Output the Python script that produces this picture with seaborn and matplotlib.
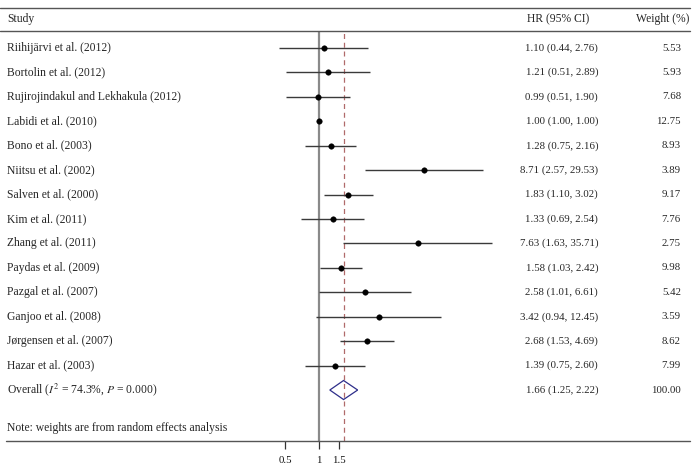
import matplotlib
matplotlib.use("Agg")
import matplotlib.pyplot as plt
import matplotlib.transforms as mtransforms
from matplotlib.lines import Line2D
import seaborn as sns
import pandas as pd

studies = ["Riihijärvi et al. (2012)", "Bortolin et al. (2012)",
           "Rujirojindakul and Lekhakula (2012)", "Labidi et al. (2010)",
           "Bono et al. (2003)", "Niitsu et al. (2002)", "Salven et al. (2000)",
           "Kim et al. (2011)", "Zhang et al. (2011)", "Paydas et al. (2009)",
           "Pazgal et al. (2007)", "Ganjoo et al. (2008)",
           "Jørgensen et al. (2007)", "Hazar et al. (2003)"]
hr = [1.10, 1.21, 0.99, 1.00, 1.28, 8.71, 1.83, 1.33, 7.63, 1.58, 2.58, 3.42, 2.68, 1.39]
ci_low = [0.44, 0.51, 0.51, 1.00, 0.75, 2.57, 1.10, 0.69, 1.63, 1.03, 1.01, 0.94, 1.53, 0.75]
ci_high = [2.76, 2.89, 1.90, 1.00, 2.16, 29.53, 3.02, 2.54, 35.71, 2.42, 6.61, 12.45, 4.69, 2.60]
weights = [5.53, 5.93, 7.68, 12.75, 8.93, 3.89, 9.17, 7.76, 2.75, 9.98, 5.42, 3.59, 8.62, 7.99]
overall_label = r"Overall ($I^2$ = 74.3%, $P$ = 0.000)"
overall_hr = 1.66
overall_low = 1.25
overall_high = 2.22
overall_weight = 100.00
xticks = [0.5, 1, 1.5]
xtick_labels = ["0.5", "1", "1.5"]
note = "Note: weights are from random effects analysis"

sns.set_theme(style="white")
plt.rcParams["font.family"] = ["Liberation Serif", "DejaVu Serif"]
plt.rcParams["mathtext.fontset"] = "stix"

W, H = 698, 467
fig = plt.figure(figsize=(W / 100, H / 100), dpi=100)
fig.patch.set_facecolor("white")

# axes geometry in pixels
ax_left, ax_right, ax_top, ax_bot = 230, 500, 31, 441
ax = fig.add_axes([ax_left / W, 1 - ax_bot / H, (ax_right - ax_left) / W, (ax_bot - ax_top) / H])
ax.set_facecolor("none")
ax.set_xscale("log")
ax.set_xlim(0.1596, 41.8)
row0, step = 48, 24.43
ax.set_ylim((ax_bot - row0) / step, (ax_top - row0) / step)
for s in ax.spines.values():
    s.set_visible(False)

n = len(studies)
df = pd.DataFrame({"study": studies, "hr": hr, "lo": ci_low, "hi": ci_high,
                   "w": weights, "row": list(range(n))})

ax.axvline(1, color="#8a8a8a", lw=1.6, zorder=1)
ax.axvline(overall_hr, color="#b06a6a", lw=0.9, ls=(0, (4, 3)), zorder=1)

ax.hlines(df["row"], df["lo"], df["hi"], color="#3a3a3a", lw=1.0, zorder=2)
sns.scatterplot(data=df, x="hr", y="row", marker="o", s=16, color="black",
                edgecolor="black", linewidth=0.3, ax=ax, zorder=3, legend=False)

orow = n
dh = 0.39
ax.fill([overall_low, overall_hr, overall_high, overall_hr],
        [orow, orow - dh, orow, orow + dh],
        facecolor="none", edgecolor="#2e2e8a", lw=0.9, zorder=3)

ax.set_xticks(xticks)
ax.set_xticklabels(xtick_labels)
ax.xaxis.set_minor_locator(matplotlib.ticker.NullLocator())
ax.set_yticks([])
ax.tick_params(axis="x", bottom=True, direction="out", length=5.8, width=0.9,
               color="#333333", labelsize=7.8, pad=5, labelcolor="#111111")
ax.set_xlabel("")
ax.set_ylabel("")

# texts
tr = mtransforms.blended_transform_factory(fig.transFigure, ax.transData)
fs = 8.4
fn = 7.8
col_study, col_hr, col_w = 7 / W, 598 / W, 681 / W
hdr_row = (19 - row0) / step
ax.text(col_study, hdr_row, "Study", transform=tr, ha="left", va="center", fontsize=fs, clip_on=False)
ax.text(589 / W, hdr_row, "HR (95% CI)", transform=tr, ha="right", va="center", fontsize=fs, clip_on=False)
ax.text(689 / W, hdr_row, "Weight (%)", transform=tr, ha="right", va="center", fontsize=fs, clip_on=False)
for i, r in df.iterrows():
    ax.text(col_study, r["row"], r["study"], transform=tr, ha="left", va="center", fontsize=fs, clip_on=False)
    ax.text(col_hr, r["row"], f"{r['hr']:.2f} ({r['lo']:.2f}, {r['hi']:.2f})", transform=tr,
            ha="right", va="center", fontsize=fn, clip_on=False)
    ax.text(col_w, r["row"], f"{r['w']:.2f}", transform=tr, ha="right", va="center", fontsize=fn, clip_on=False)
ax.text(col_study, orow, overall_label, transform=tr, ha="left", va="center", fontsize=fs, clip_on=False)
ax.text(col_hr, orow, f"{overall_hr:.2f} ({overall_low:.2f}, {overall_high:.2f})", transform=tr,
        ha="right", va="center", fontsize=fn, clip_on=False)
ax.text(col_w, orow, f"{overall_weight:.2f}", transform=tr, ha="right", va="center", fontsize=fn, clip_on=False)
ax.text(col_study, (428 - row0) / step, note, transform=tr, ha="left", va="center", fontsize=fs, clip_on=False)

# horizontal rules
lc = "#555555"
for y, x0 in [(8, 0), (31, 0), (441, 6)]:
    fig.add_artist(Line2D([x0 / W, 690 / W], [1 - y / H, 1 - y / H], color=lc, lw=1.0,
                          transform=fig.transFigure))

fig.savefig("out.png", dpi=100)
